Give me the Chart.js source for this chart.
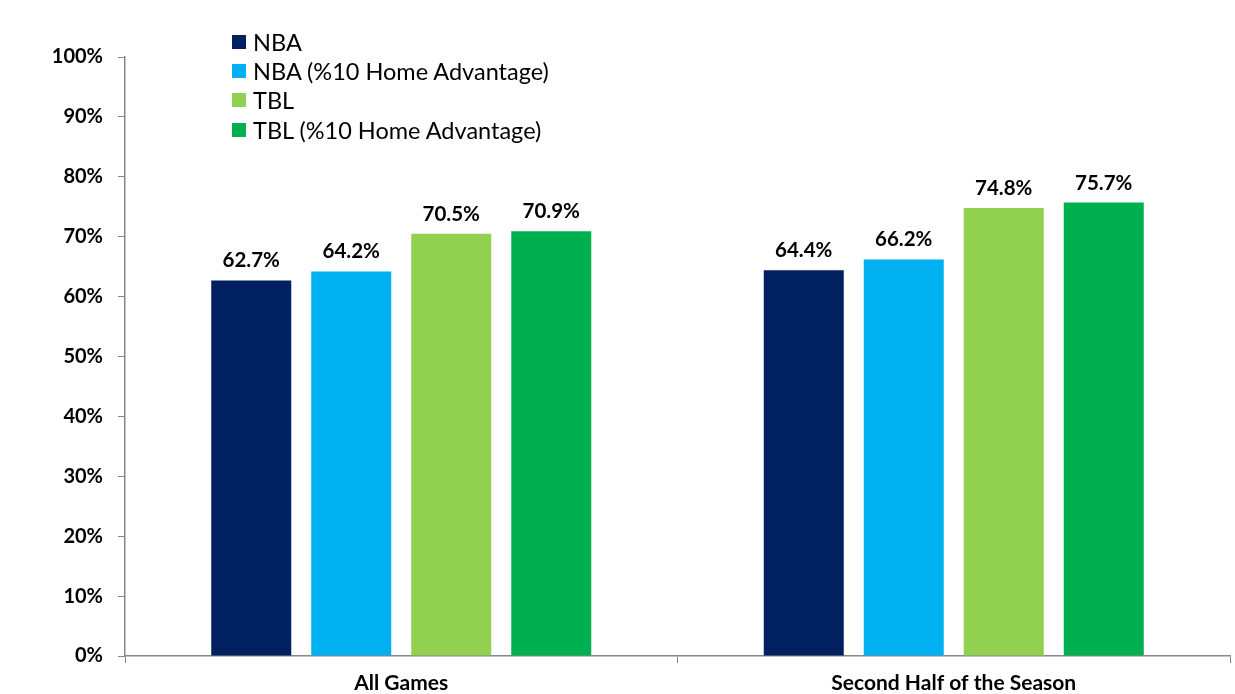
<!DOCTYPE html>
<html>
<head>
<meta charset="utf-8">
<script src="https://cdn.jsdelivr.net/npm/chart.js@4.4.1/dist/chart.umd.min.js"></script>
<style>
  * { margin: 0; padding: 0; box-sizing: border-box; }
  body { background: #fff; width: 1235px; height: 694px; overflow: hidden; font-family: Lato, "Open Sans", sans-serif; }
  .wrap { position: relative; width: 1235px; height: 694px; }
  #legend { position: absolute; left: 232px; top: 27px; list-style: none; }
  #legend li { display: flex; align-items: center; height: 29.3px; font-size: 23.5px; color: #000; }
  #legend .box { width: 14px; height: 14px; margin-right: 7px; }
</style>
</head>
<body>
<div class="wrap">
  <canvas id="chart" width="1235" height="694"></canvas>
  <ul id="legend"></ul>
</div>
<script>
  const categories = ['All Games', 'Second Half of the Season'];
  const seriesNames = ['NBA', 'NBA (%10 Home Advantage)', 'TBL', 'TBL (%10 Home Advantage)'];
  const nbaValues = [62.7, 64.4];
  const nbaHomeValues = [64.2, 66.2];
  const tblValues = [70.5, 74.8];
  const tblHomeValues = [70.9, 75.7];
  const seriesColors = ['#002060', '#00B0F0', '#92D050', '#00B050'];

  const allValues = [nbaValues, nbaHomeValues, tblValues, tblHomeValues];
  const datasets = seriesNames.map((name, i) => ({
    label: name,
    data: allValues[i],
    backgroundColor: seriesColors[i],
    barPercentage: 0.8,
    categoryPercentage: 0.724,
  }));

  // etykiety nad slupkami
  const valueLabels = {
    id: 'valueLabels',
    afterDatasetsDraw(chart) {
      const ctx = chart.ctx;
      ctx.save();
      ctx.font = 'bold 20.5px Lato, sans-serif';
      ctx.fillStyle = '#000';
      ctx.textAlign = 'center';
      ctx.textBaseline = 'alphabetic';
      chart.data.datasets.forEach((ds, i) => {
        chart.getDatasetMeta(i).data.forEach((bar, j) => {
          ctx.fillText(ds.data[j].toFixed(1) + '%', bar.x, bar.y - 13);
        });
      });
      ctx.restore();
    }
  };

  const chart = new Chart(document.getElementById('chart'), {
    type: 'bar',
    data: { labels: categories, datasets },
    options: {
      responsive: false,
      animation: false,
      layout: { padding: { top: 57, right: 5, left: 0, bottom: 0 } },
      plugins: { legend: { display: false }, tooltip: { enabled: false } },
      scales: {
        x: {
          grid: { drawOnChartArea: false, drawTicks: true, tickLength: 7, color: '#888', offset: true },
          border: { display: true, color: '#888', width: 1.5 },
          ticks: { color: '#000', font: { family: 'Lato', size: 21, weight: 'bold' }, padding: 8 },
          afterFit(scale) { scale.height = 38; }
        },
        y: {
          min: 0, max: 100,
          ticks: {
            stepSize: 10, color: '#000', padding: 15,
            font: { family: 'Lato', size: 20, weight: 'bold' },
            callback: v => v + '%'
          },
          grid: { drawOnChartArea: false, drawTicks: true, tickLength: 7, color: '#888' },
          border: { display: true, color: '#888', width: 1.5 },
          afterFit(scale) { scale.width = 125; }
        }
      }
    },
    plugins: [valueLabels]
  });

  const legend = document.getElementById('legend');
  chart.data.datasets.forEach(ds => {
    const li = document.createElement('li');
    li.innerHTML = '<span class="box" style="background:' + ds.backgroundColor + '"></span>' + ds.label;
    legend.appendChild(li);
  });
</script>
</body>
</html>
